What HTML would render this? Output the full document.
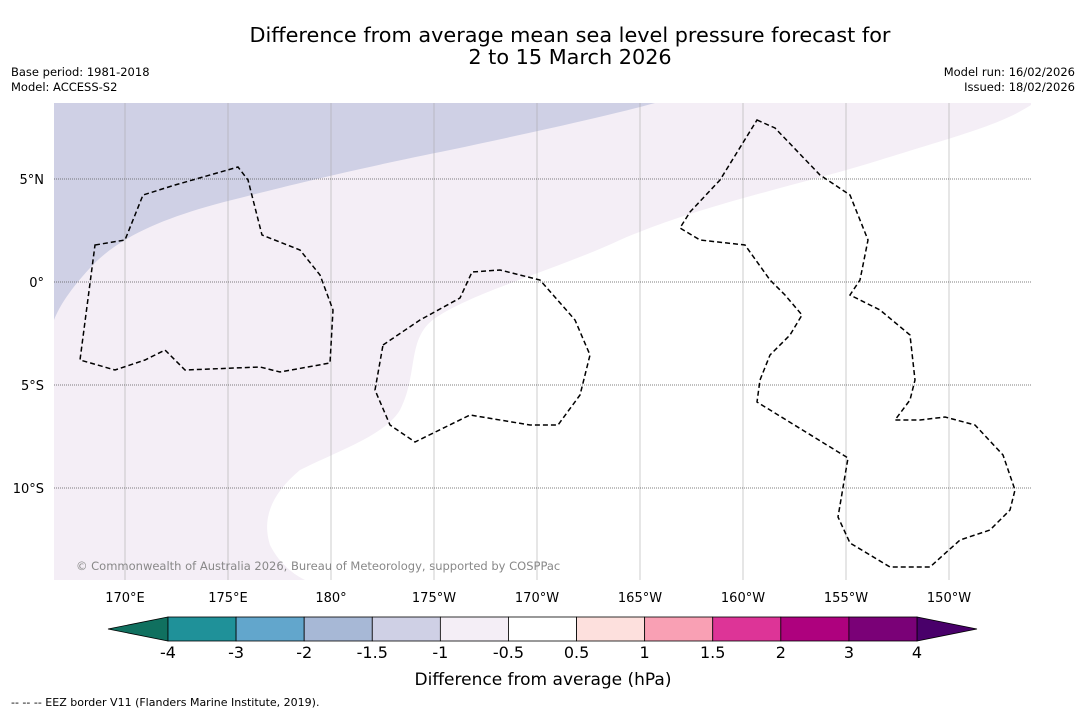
<!DOCTYPE html>
<html><head><meta charset="utf-8">
<style>
body{margin:0;background:#fff;width:1085px;height:713px;overflow:hidden;font-family:"Liberation Sans","DejaVu Sans",sans-serif;}
svg{position:absolute;left:0;top:0}
</style></head>
<body>
<svg width="1085" height="713" viewBox="0 0 1085 713">
<text x="570" y="42" text-anchor="middle" font-size="20.8" font-family="DejaVu Sans,sans-serif">Difference from average mean sea level pressure forecast for</text>
<text x="570" y="64" text-anchor="middle" font-size="20.8" font-family="DejaVu Sans,sans-serif">2 to 15 March 2026</text>
<text x="11" y="76" font-size="11.5" font-family="DejaVu Sans,sans-serif">Base period: 1981-2018</text>
<text x="11" y="91" font-size="11.5" font-family="DejaVu Sans,sans-serif">Model: ACCESS-S2</text>
<text x="1075" y="76" text-anchor="end" font-size="11.5" font-family="DejaVu Sans,sans-serif">Model run: 16/02/2026</text>
<text x="1075" y="91" text-anchor="end" font-size="11.5" font-family="DejaVu Sans,sans-serif">Issued: 18/02/2026</text>
<g id="map">
<rect x="54" y="103" width="977" height="477" fill="#fff"/>
<path fill="#f4eef6" d="M54,103 L1031,103 L1031,105 C1000,125 960,135 880,160 C800,185 700,205 620,240 C560,268 480,290 440,315 C405,335 420,370 400,410 C385,435 340,450 300,470 C270,495 262,520 270,545 C280,565 295,575 305,580 L54,580 Z"/>
<path fill="#cfd0e5" d="M54,103 L655,103 C600,118 520,135 450,150 C360,168 290,185 240,198 C170,215 120,235 90,268 C70,290 60,305 54,320 Z"/>
<g id="grid"></g>
<g fill="none" stroke="#000" stroke-width="1.5" stroke-dasharray="5,3">
<path d="M95,245 L125,240 L143,195 L175,185 L238,167 L248,180 L262,235 L300,250 L320,275 L333,310 L330,363 L280,372 L260,367 L185,370 L165,350 L145,360 L115,370 L80,360 Z"/>
<path d="M383,345 L420,320 L460,298 L472,272 L500,270 L540,280 L575,320 L590,355 L580,395 L558,425 L530,425 L470,415 L415,442 L390,425 L375,390 Z"/>
<path d="M757,120 L775,128 L820,175 L850,195 L868,240 L860,280 L850,295 L880,310 L910,335 L915,380 L910,400 L895,420 L920,420 L945,417 L975,425 L1003,455 L1015,490 L1010,510 L990,530 L960,540 L930,567 L890,567 L850,543 L838,517 L848,458 L757,402 L760,380 L770,355 L790,335 L802,315 L785,295 L770,280 L745,245 L700,240 L680,228 L690,212 L720,180 Z"/>
</g>
<text x="76" y="570" font-size="11.5" fill="#888" font-family="DejaVu Sans,sans-serif">© Commonwealth of Australia 2026, Bureau of Meteorology, supported by COSPPac</text>
</g>
<g id="axes"></g>
<g id="cbar"></g>
<text x="543" y="685" text-anchor="middle" font-size="17" font-family="DejaVu Sans,sans-serif">Difference from average (hPa)</text>
<text x="11" y="706" font-size="11" font-family="DejaVu Sans,sans-serif">--  --  --  EEZ border V11 (Flanders Marine Institute, 2019).</text>
</svg>
<script>
const lonTicks=[170,175,180,185,190,195,200,205,210];
const lonLabels=["170°E","175°E","180°","175°W","170°W","165°W","160°W","155°W","150°W"];
const latTicks=[5,0,-5,-10];
const latLabels=["5°N","0°","5°S","10°S"];
const cbarLevels=["-4","-3","-2","-1.5","-1","-0.5","0.5","1","1.5","2","3","4"];
const cbarColors=["#1f9199","#62a6cc","#a7b8d6","#cfd0e5","#f4eef6","#ffffff","#fde0dd","#f9a0b4","#dd3497","#ae017e","#7a0177"];
const extLow="#10705f", extHigh="#49006a";
const NS="http://www.w3.org/2000/svg";
const X=lon=>125+(lon-170)*20.6, Y=lat=>282-lat*20.6;
function mk(t,a,p){const e=document.createElementNS(NS,t);for(const k in a)e.setAttribute(k,a[k]);p.appendChild(e);return e;}
const grid=document.getElementById('grid'), axes=document.getElementById('axes');
lonTicks.forEach((v,i)=>{
 const l=mk('line',{x1:X(v),x2:X(v),y1:103,y2:580,stroke:'#aaa','stroke-width':0.6},grid);
 
 
 const t=mk('text',{x:X(v),y:602,'text-anchor':'middle','font-size':13,'font-family':'DejaVu Sans,sans-serif'},axes);
 t.textContent=lonLabels[i];
 
 
});
latTicks.forEach((v,i)=>{
 const l=mk('line',{x1:54,x2:1031,y1:Y(v),y2:Y(v),stroke:'#555','stroke-width':0.7,'stroke-dasharray':'1,1'},grid);
 
 
 const t=mk('text',{x:44,y:Y(v)+5,'text-anchor':'end','font-size':13,'font-family':'DejaVu Sans,sans-serif'},axes);
 t.textContent=latLabels[i];
 
 
});
const cb=document.getElementById('cbar');
const x0=168,x1=917,y0=617,h=24,w=(x1-x0)/cbarColors.length;
const lo=mk('polygon',{points:`108,${y0+h/2} ${x0},${y0} ${x0},${y0+h}`,fill:extLow,stroke:'#000','stroke-width':0.8},cb);


const hi=mk('polygon',{points:`977,${y0+h/2} ${x1},${y0} ${x1},${y0+h}`,fill:extHigh,stroke:'#000','stroke-width':0.8},cb);


cbarColors.forEach((c,i)=>{
 const r=mk('rect',{x:x0+i*w,y:y0,width:w,height:h,fill:c,stroke:'#000','stroke-width':0.8},cb);
 
 
});
cbarLevels.forEach((s,i)=>{
 const t=mk('text',{x:x0+i*w,y:658,'text-anchor':'middle','font-size':16,'font-family':'DejaVu Sans,sans-serif'},cb);
 t.textContent=s;
 
 
});
</script>
</body></html>
